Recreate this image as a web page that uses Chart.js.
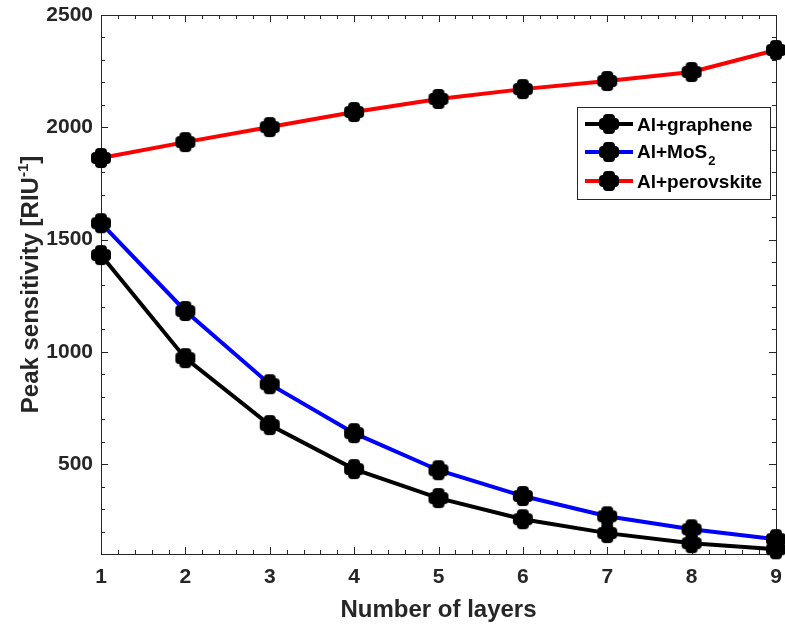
<!DOCTYPE html>
<html>
<head>
<meta charset="utf-8">
<script src="https://cdn.jsdelivr.net/npm/chart.js@4/dist/chart.umd.min.js"></script>
<style>
html,body{margin:0;padding:0;background:#fff;}
#c{display:block;}
</style>
</head>
<body>
<canvas id="c" width="785" height="626"></canvas>
<script>
// ---- data ----
const layers = [1, 2, 3, 4, 5, 6, 7, 8, 9];
const graphene = [1431, 972, 674, 478, 349, 255, 193, 148, 121];
const mos2 = [1573, 1182, 856, 638, 473, 358, 268, 210, 166];
const perovskite = [1863, 1934, 2001, 2068, 2126, 2170, 2206, 2246, 2344];
const xTicks = [1, 2, 3, 4, 5, 6, 7, 8, 9];
const yTicks = [500, 1000, 1500, 2000, 2500];
const seriesMain = ['Al+graphene', 'Al+MoS', 'Al+perovskite'];
const seriesSub = ['', '2', ''];
const seriesColors = ['#000000', '#0000ff', '#ff0000'];
const xTitle = 'Number of layers';
const yTitleMain = 'Peak sensitivity [RIU';
const yTitleSup = '-1';
const yTitleEnd = ']';

const FAM = '"Liberation Sans", Arial, Helvetica, sans-serif';
const AX = '#262626';

function rrect(g, x, y, w, h, r) {
  g.beginPath();
  g.moveTo(x + r, y);
  g.lineTo(x + w - r, y); g.arcTo(x + w, y, x + w, y + r, r);
  g.lineTo(x + w, y + h - r); g.arcTo(x + w, y + h, x + w - r, y + h, r);
  g.lineTo(x + r, y + h); g.arcTo(x, y + h, x, y + h - r, r);
  g.lineTo(x, y + r); g.arcTo(x, y, x + r, y, r);
  g.closePath(); g.fill();
}
function makeMarker() {
  const c = document.createElement('canvas');
  c.width = 22; c.height = 22;
  const g = c.getContext('2d');
  g.fillStyle = '#000';
  rrect(g, 1, 5, 20, 12, 4);
  rrect(g, 5, 1, 12, 20, 4);
  g.beginPath(); g.arc(11, 11, 7.6, 0, Math.PI * 2); g.fill();
  return c;
}
const marker = makeMarker();

function toXY(arr) { return arr.map((v, i) => ({ x: layers[i], y: v })); }
const allSeries = [graphene, mos2, perovskite];

const datasets = allSeries.map((s, i) => ({
  label: seriesMain[i] + seriesSub[i],
  data: toXY(s),
  borderColor: seriesColors[i],
  backgroundColor: '#000',
  borderWidth: 4,
  tension: 0,
  pointStyle: marker,
  pointRadius: 10,
  clip: false
}));

const boxPlugin = {
  id: 'box',
  beforeDatasetsDraw(chart) {
    const ctx = chart.ctx, a = chart.chartArea;
    const xs = chart.scales.x, ys = chart.scales.y;
    ctx.save();
    ctx.strokeStyle = AX; ctx.lineWidth = 1;
    ctx.beginPath();
    ctx.rect(Math.round(a.left) + 0.5, Math.round(a.top) + 0.5, Math.round(a.right - a.left), Math.round(a.bottom - a.top));
    ctx.stroke();
    ctx.beginPath();
    for (let v = 1; v <= 9.0001; v += 0.2) {
      const major = Math.abs(v - Math.round(v)) < 1e-6;
      const L = major ? 7 : 4;
      const px = Math.round(xs.getPixelForValue(v)) + 0.5;
      ctx.moveTo(px, a.bottom); ctx.lineTo(px, a.bottom - L);
      ctx.moveTo(px, a.top); ctx.lineTo(px, a.top + L);
    }
    for (let v = 100; v <= 2500; v += 100) {
      const major = v % 500 === 0;
      const L = major ? 7 : 4;
      const py = Math.round(ys.getPixelForValue(v)) + 0.5;
      ctx.moveTo(a.left, py); ctx.lineTo(a.left + L, py);
      ctx.moveTo(a.right, py); ctx.lineTo(a.right - L, py);
    }
    ctx.stroke();
    ctx.restore();
  },
  afterDraw(chart) {
    const ctx = chart.ctx, a = chart.chartArea;
    ctx.save();
    ctx.fillStyle = AX;
    ctx.font = 'bold 24px ' + FAM;
    ctx.textAlign = 'center'; ctx.textBaseline = 'alphabetic';
    ctx.fillText(xTitle, (a.left + a.right) / 2, 617);
    const big = 'bold 24px ' + FAM, small = 'bold 15px ' + FAM;
    ctx.font = big; const w1 = ctx.measureText(yTitleMain).width; const w3 = ctx.measureText(yTitleEnd).width;
    ctx.font = small; const w2 = ctx.measureText(yTitleSup).width;
    const W = w1 + w2 + w3;
    ctx.translate(38, (a.top + a.bottom) / 2);
    ctx.rotate(-Math.PI / 2);
    ctx.textAlign = 'left';
    let x0 = -W / 2;
    ctx.font = big; ctx.fillText(yTitleMain, x0, 0);
    ctx.font = small; ctx.fillText(yTitleSup, x0 + w1, -10);
    ctx.font = big; ctx.fillText(yTitleEnd, x0 + w1 + w2, 0);
    ctx.restore();

    // legend
    ctx.save();
    const L = 577, T = 107, R = 770, B = 199;
    ctx.fillStyle = '#fff';
    ctx.fillRect(L, T, R - L, B - T);
    ctx.strokeStyle = AX; ctx.lineWidth = 1;
    ctx.strokeRect(L + 0.5, T + 0.5, R - L, B - T);
    const rowY = [124, 152, 181];
    const baseY = [131, 158, 188];
    for (let i = 0; i < 3; i++) {
      ctx.strokeStyle = seriesColors[i]; ctx.lineWidth = 4;
      ctx.beginPath(); ctx.moveTo(585, rowY[i]); ctx.lineTo(633, rowY[i]); ctx.stroke();
      ctx.drawImage(marker, 609 - 11, rowY[i] - 11);
      ctx.fillStyle = '#000';
      ctx.font = 'bold 19px ' + FAM;
      ctx.textAlign = 'left'; ctx.textBaseline = 'alphabetic';
      ctx.fillText(seriesMain[i], 637, baseY[i]);
      if (seriesSub[i]) {
        const w = ctx.measureText(seriesMain[i]).width;
        ctx.font = 'bold 13px ' + FAM;
        ctx.fillText(seriesSub[i], 637 + w + 1, baseY[i] + 7);
      }
    }
    ctx.restore();
  }
};

function noPad(s) { s.paddingTop = 0; s.paddingBottom = 0; s.paddingLeft = 0; s.paddingRight = 0; }

new Chart(document.getElementById('c'), {
  type: 'line',
  data: { datasets },
  options: {
    responsive: false,
    animation: false,
    devicePixelRatio: 1,
    layout: { autoPadding: false, padding: { top: 15, right: 9, left: 0, bottom: 0 } },
    plugins: { legend: { display: false }, tooltip: { enabled: false } },
    scales: {
      x: {
        type: 'linear', min: 1, max: 9,
        afterBuildTicks: s => { s.ticks = xTicks.map(v => ({ value: v })); },
        afterFit: s => { s.height = 72; noPad(s); },
        grid: { display: false, drawTicks: false },
        border: { display: false },
        ticks: { font: { family: FAM, size: 21, weight: 'bold' }, color: AX, padding: 11, maxRotation: 0, autoSkip: false,
                 callback: v => String(v) }
      },
      y: {
        type: 'linear', min: 100, max: 2500,
        afterBuildTicks: s => { s.ticks = yTicks.map(v => ({ value: v })); },
        afterFit: s => { s.width = 101; noPad(s); },
        grid: { display: false, drawTicks: false },
        border: { display: false },
        ticks: { font: { family: FAM, size: 21, weight: 'bold' }, color: AX, padding: 8,
                 callback: v => String(v) }
      }
    }
  },
  plugins: [boxPlugin]
});
</script>
</body>
</html>
